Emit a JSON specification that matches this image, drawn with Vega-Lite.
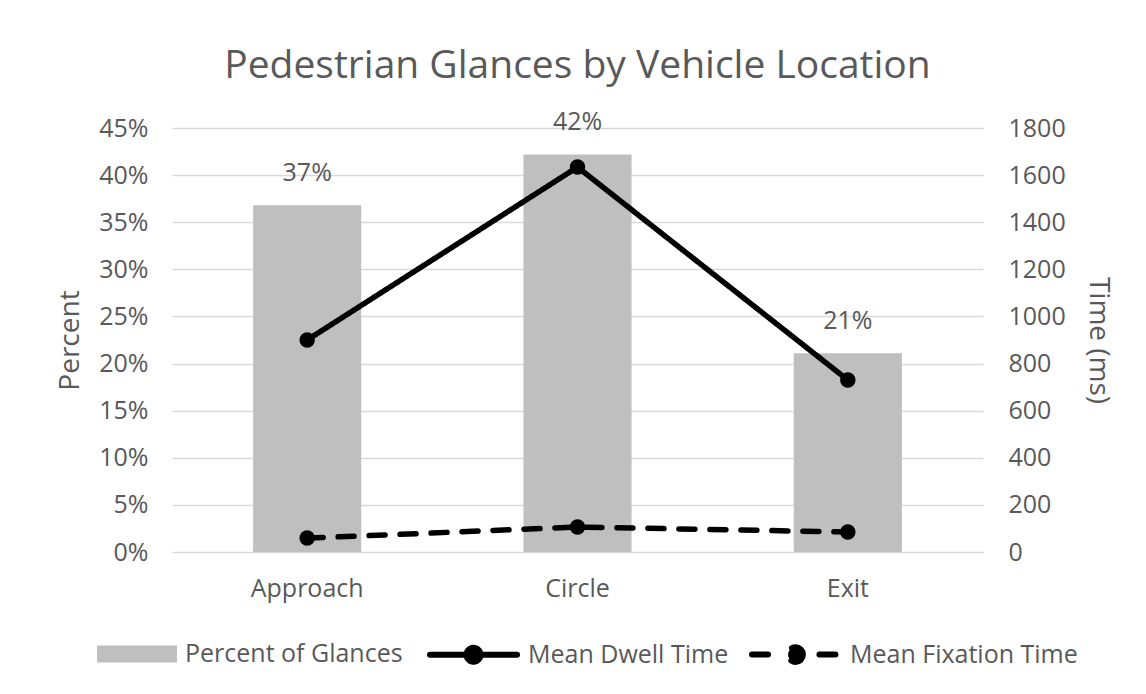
{
  "$schema": "https://vega.github.io/schema/vega-lite/v6.json",
  "width": 811,
  "height": 424,
  "autosize": {"type": "none"},
  "padding": {"left": 172, "top": 128, "right": 163, "bottom": 142},
  "background": "white",
  "title": {
    "text": "Pedestrian Glances by Vehicle Location",
    "fontSize": 39,
    "font": "Open Sans",
    "fontWeight": "normal",
    "color": "#595959",
    "anchor": "middle",
    "offset": 24
  },
  "config": {
    "font": "Open Sans",
    "view": {"stroke": null},
    "axis": {
      "labelFont": "Open Sans",
      "labelFontSize": 25,
      "labelColor": "#595959",
      "titleFont": "Open Sans",
      "titleFontSize": 28,
      "titleFontWeight": "normal",
      "titleColor": "#595959",
      "domain": false,
      "ticks": false,
      "gridColor": "#d9d9d9",
      "gridWidth": 1.5
    },
    "legend": {
      "labelFont": "Open Sans",
      "labelFontSize": 25,
      "labelColor": "#595959",
      "labelLimit": 400,
      "orient": "none",
      "direction": "horizontal",
      "title": null
    }
  },
  "data": {
    "values": [
      {"location": "Approach", "series": "Percent of Glances", "value": 0.368},
      {"location": "Circle", "series": "Percent of Glances", "value": 0.422},
      {"location": "Exit", "series": "Percent of Glances", "value": 0.211},
      {"location": "Approach", "series": "Mean Dwell Time", "value": 900},
      {"location": "Circle", "series": "Mean Dwell Time", "value": 1634},
      {"location": "Exit", "series": "Mean Dwell Time", "value": 730},
      {"location": "Approach", "series": "Mean Fixation Time", "value": 59},
      {"location": "Circle", "series": "Mean Fixation Time", "value": 106},
      {"location": "Exit", "series": "Mean Fixation Time", "value": 85}
    ]
  },
  "encoding": {
    "x": {
      "field": "location",
      "type": "nominal",
      "sort": ["Approach", "Circle", "Exit"],
      "scale": {"paddingInner": 0.6, "paddingOuter": 0.3},
      "axis": {"title": null, "labelAngle": 0, "labelPadding": 24, "grid": false}
    }
  },
  "layer": [
    {
      "transform": [{"filter": "datum.series === 'Percent of Glances'"}],
      "layer": [
        {
          "mark": {"type": "bar"},
          "encoding": {
            "y": {
              "field": "value",
              "type": "quantitative",
              "scale": {"domain": [0, 0.45], "nice": false},
              "axis": {
                "title": "Percent",
                "format": ".0%",
                "values": [0, 0.05, 0.1, 0.15, 0.2, 0.25, 0.3, 0.35, 0.4, 0.45],
                "labelPadding": 24,
                "titlePadding": 14
              }
            },
            "fill": {
              "field": "series",
              "type": "nominal",
              "scale": {"domain": ["Percent of Glances"], "range": ["#bfbfbf"]},
              "legend": {
                "symbolType": "M-1,-0.2125H1V0.2125H-1Z",
                "symbolSize": 6400,
                "symbolStrokeWidth": 0,
                "labelOffset": 8,
                "legendX": -75,
                "legendY": 486
              }
            }
          }
        },
        {
          "mark": {"type": "text", "dy": -32, "fontSize": 25, "color": "#595959", "font": "Open Sans"},
          "encoding": {
            "y": {"field": "value", "type": "quantitative", "scale": {"domain": [0, 0.45], "nice": false}},
            "text": {"field": "value", "type": "quantitative", "format": ".0%"}
          }
        }
      ]
    },
    {
      "transform": [{"filter": "datum.series !== 'Percent of Glances'"}],
      "layer": [
        {
          "mark": {"type": "line", "strokeWidth": 5.5, "strokeCap": "round"},
          "encoding": {
            "y": {
              "field": "value",
              "type": "quantitative",
              "scale": {"domain": [0, 1800], "nice": false},
              "axis": {
                "orient": "right",
                "title": "Time (ms)",
                "format": "d",
                "values": [0, 200, 400, 600, 800, 1000, 1200, 1400, 1600, 1800],
                "labelPadding": 25,
                "titlePadding": 18,
                "grid": false
              }
            },
            "strokeDash": {
              "field": "series",
              "type": "nominal",
              "scale": {"domain": ["Mean Dwell Time", "Mean Fixation Time"], "range": [[1, 0], [16, 15]]},
              "legend": null
            },
            "stroke": {
              "field": "series",
              "type": "nominal",
              "scale": {"domain": ["Mean Dwell Time", "Mean Fixation Time"], "range": ["black", "black"]},
              "legend": {
                "symbolSize": 7569,
                "symbolFillColor": "black",
                "symbolStrokeWidth": 6,
                "labelOffset": 8,
                "columnPadding": 11,
                "legendX": 255,
                "legendY": 480,
                "encode": {
                  "symbols": {
                    "update": {
                      "shape": {"signal": "datum.value === 'Mean Fixation Time' ? 'M-1,0H-0.6M0.55,0H1M0.17,0A0.17,0.17 0 1,1 -0.17,0A0.17,0.17 0 1,1 0.17,0Z' : 'M-1,0H1M0.16,0A0.16,0.16 0 1,1 -0.16,0A0.16,0.16 0 1,1 0.16,0Z'"},
                      "fill": {"value": "black"},
                      "strokeCap": {"value": "round"}
                    }
                  }
                }
              }
            },
            "detail": {"field": "series"}
          }
        },
        {
          "mark": {"type": "point", "filled": true, "color": "black", "size": 240, "opacity": 1},
          "encoding": {
            "y": {"field": "value", "type": "quantitative", "scale": {"domain": [0, 1800], "nice": false}}
          }
        }
      ]
    }
  ],
  "resolve": {"scale": {"y": "independent"}}
}
